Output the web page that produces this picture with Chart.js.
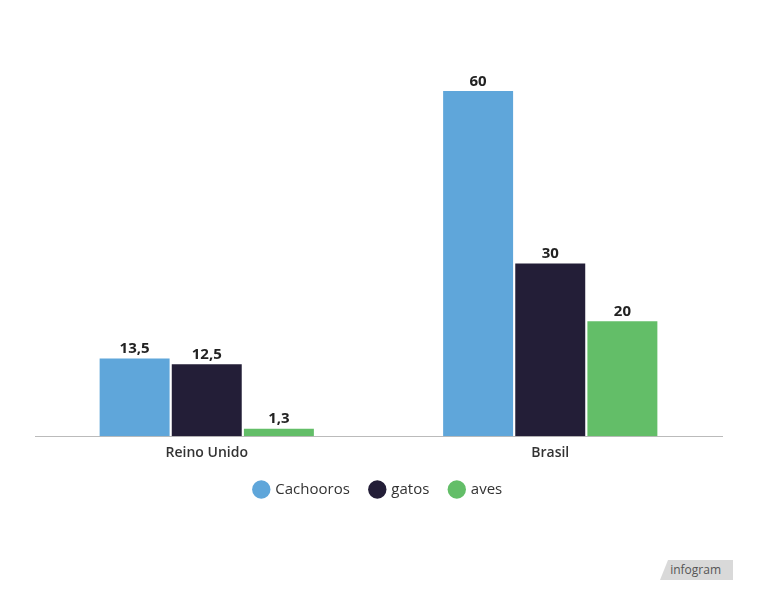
<!DOCTYPE html>
<html>
<head>
<meta charset="utf-8">
<script src="https://cdn.jsdelivr.net/npm/chart.js@4/dist/chart.umd.min.js"></script>
<style>
  body { margin: 0; background: #fff; }
  #wrap { position: relative; width: 759px; height: 600px; }
  #badge {
    position: absolute; left: 660px; top: 560px; width: 73px; height: 20px;
    background: #d9d9d9; color: #555; font: 12px "Open Sans", sans-serif;
    line-height: 20px; text-align: right; padding-right: 12px; box-sizing: border-box;
    clip-path: polygon(8px 0, 100% 0, 100% 100%, 18px 100%, 14px 26px, 12px 100%, 0 100%);
  }
</style>
</head>
<body>
<div id="wrap">
  <canvas id="myChart" width="759" height="600"></canvas>
  <div id="badge">infogram</div>
</div>
<script>
var paises = ['Reino Unido', 'Brasil'];
var cachooros = [13.5, 60];
var gatos = [12.5, 30];
var aves = [1.3, 20];

// rótulos em cima das barras, com vírgula decimal
var rotulos = {
    id: 'rotulos',
    afterDatasetsDraw: function (chart) {
        var ctx = chart.ctx;
        ctx.save();
        ctx.font = 'bold 15px "Open Sans", sans-serif';
        ctx.fillStyle = '#222';
        ctx.textAlign = 'center';
        ctx.textBaseline = 'bottom';
        chart.data.datasets.forEach(function (ds, i) {
            chart.getDatasetMeta(i).data.forEach(function (bar, j) {
                var txt = String(ds.data[j]).replace('.', ',');
                ctx.fillText(txt, bar.x, bar.y - 2);
            });
        });
        ctx.restore();
    }
};

var ctx = document.getElementById('myChart').getContext('2d');
var mychart = new Chart(ctx, {
    type: 'bar',
    data: {
        labels: paises,
        datasets: [{
            label: 'Cachooros',
            data: cachooros,
            backgroundColor: 'rgb(95, 166, 218)'
        }, {
            label: 'gatos',
            data: gatos,
            backgroundColor: 'rgb(35, 30, 55)'
        }, {
            label: 'aves',
            data: aves,
            backgroundColor: 'rgb(99, 190, 104)'
        }]
    },
    options: {
        responsive: false,
        animation: false,
        layout: {
            padding: { left: 35, right: 37, top: 91, bottom: 93 }
        },
        datasets: {
            bar: {
                categoryPercentage: 0.63,
                barPercentage: 0.97
            }
        },
        plugins: {
            tooltip: { enabled: false },
            legend: {
                position: 'bottom',
                labels: {
                    usePointStyle: true,
                    pointStyle: 'circle',
                    boxWidth: 13,
                    boxHeight: 13,
                    padding: 21,
                    color: '#333',
                    font: { family: '"Open Sans", sans-serif', size: 15 }
                }
            }
        },
        scales: {
            x: {
                grid: { display: false },
                border: { display: true, color: '#bbb' },
                ticks: {
                    color: '#333',
                    padding: 0,
                    font: { family: '"Open Sans", sans-serif', size: 14, weight: '600' }
                }
            },
            y: {
                display: false,
                min: 0,
                max: 60
            }
        }
    },
    plugins: [rotulos]
});
</script>
</body>
</html>
